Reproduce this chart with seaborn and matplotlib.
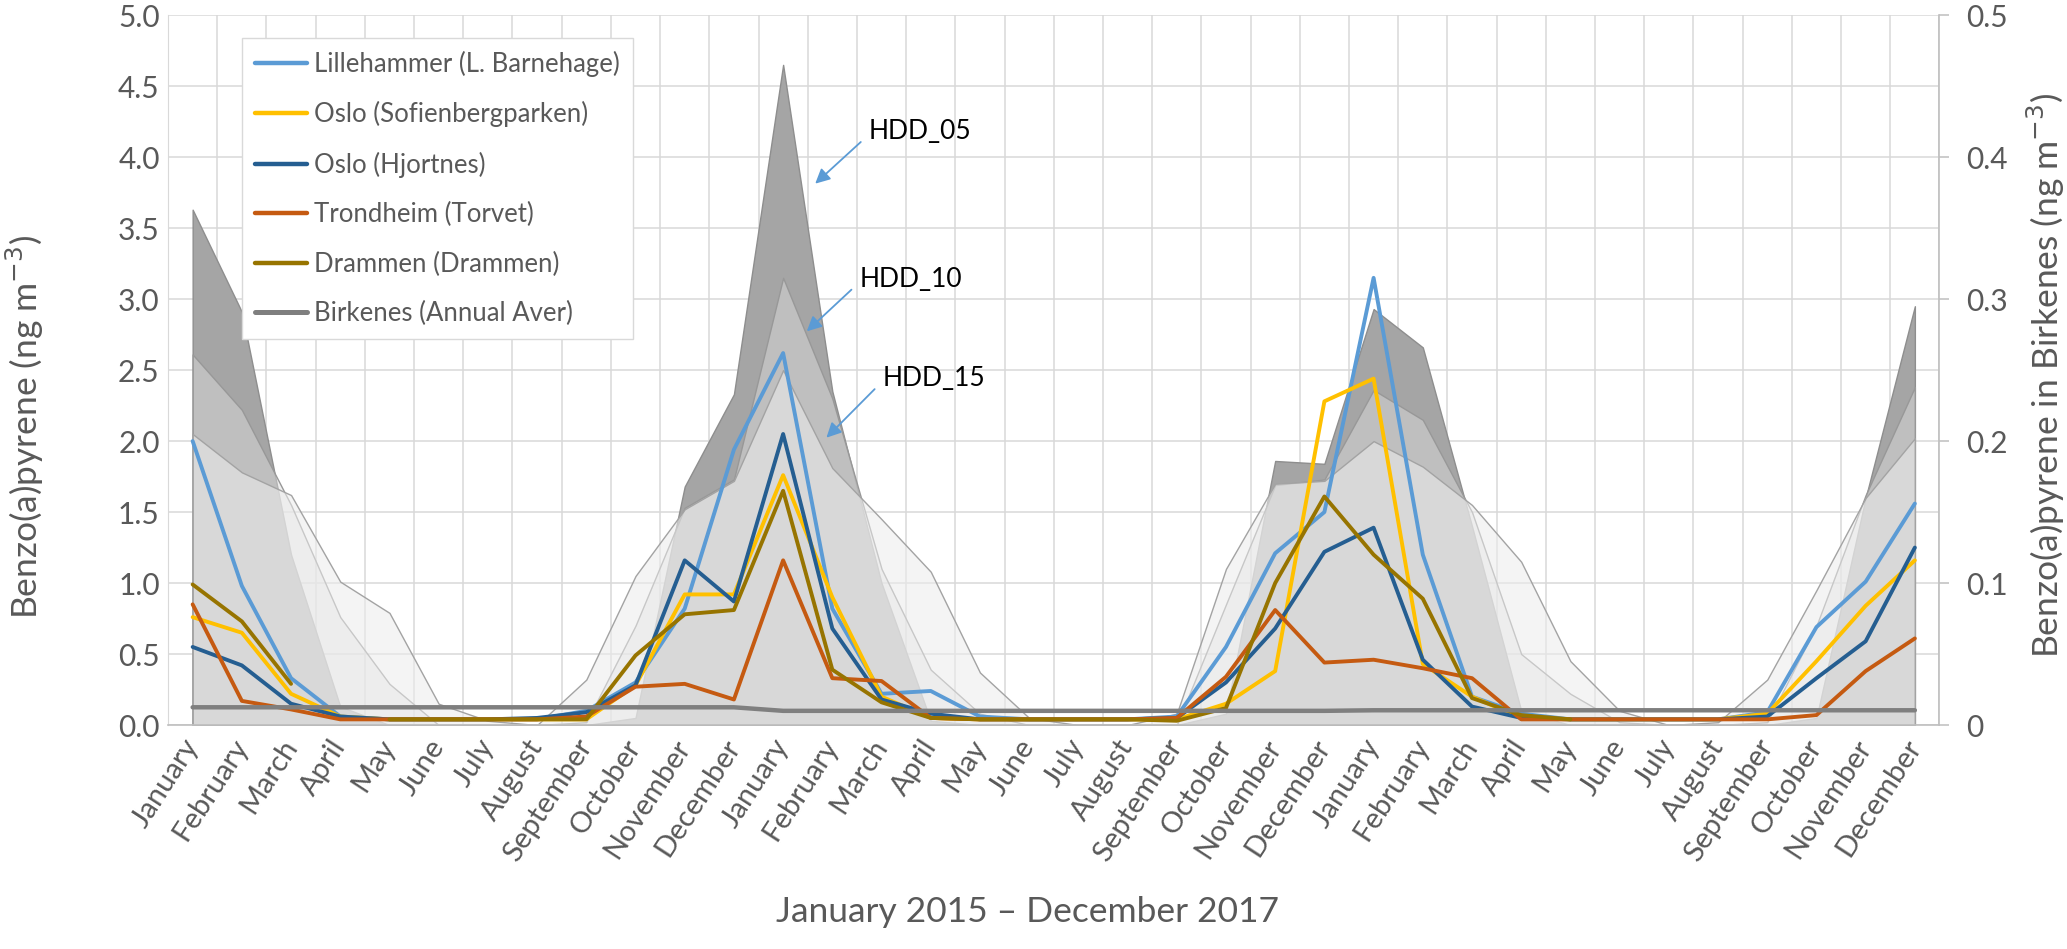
import numpy as np
import pandas as pd
import seaborn as sns
import matplotlib
matplotlib.use("Agg")
import matplotlib.pyplot as plt
from matplotlib.lines import Line2D

# ---- data ----
month_names = ["January", "February", "March", "April", "May", "June", "July",
               "August", "September", "October", "November", "December"]
months = month_names * 3   # Jan 2015 .. Dec 2017

lillehammer = [2.00, 0.98, 0.33, 0.06, 0.04, 0.04, 0.04, 0.04, 0.10, 0.30, 0.82, 1.94,
               2.62, 0.82, 0.22, 0.24, 0.06, 0.04, 0.04, 0.04, 0.06, 0.55, 1.21, 1.50,
               3.15, 1.20, 0.20, 0.08, 0.04, 0.04, 0.04, 0.04, 0.09, 0.69, 1.01, 1.56]
sofienberg = [0.76, 0.65, 0.22, 0.06, 0.04, 0.04, 0.04, 0.04, 0.04, 0.28, 0.92, 0.92,
              1.76, 0.90, 0.20, 0.05, 0.04, 0.04, 0.04, 0.04, 0.04, 0.15, 0.38, 2.28,
              2.44, 0.43, 0.20, 0.05, 0.04, 0.04, 0.04, 0.04, 0.08, 0.45, 0.84, 1.16]
hjortnes = [0.55, 0.42, 0.15, 0.06, 0.04, 0.04, 0.04, 0.05, 0.09, 0.28, 1.16, 0.87,
            2.05, 0.68, 0.18, 0.08, 0.04, 0.04, 0.04, 0.04, 0.05, 0.30, 0.68, 1.22,
            1.39, 0.46, 0.13, 0.05, 0.04, 0.04, 0.04, 0.04, 0.06, 0.33, 0.59, 1.25]
trondheim = [0.85, 0.17, 0.11, 0.04, 0.04, 0.04, 0.04, 0.04, 0.06, 0.27, 0.29, 0.18,
             1.16, 0.33, 0.31, 0.05, 0.04, 0.04, 0.04, 0.04, 0.05, 0.34, 0.81, 0.44,
             0.46, 0.40, 0.33, 0.04, 0.04, 0.04, 0.04, 0.04, 0.04, 0.07, 0.38, 0.61]
nan = np.nan
drammen = [0.99, 0.73, 0.29, nan, 0.04, 0.04, 0.04, 0.04, 0.04, 0.49, 0.78, 0.81,
           1.65, 0.39, 0.16, 0.05, 0.04, 0.04, 0.04, 0.04, 0.03, 0.12, 1.00, 1.61,
           1.20, 0.89, 0.19, 0.07, 0.04, nan, nan, nan, nan, nan, nan, nan]
birkenes = [0.0125] * 12 + [0.0100] * 12 + [0.0104] * 12   # right axis

hdd_05 = [3.63, 2.91, 1.20, 0.13, 0.00, 0.00, 0.00, 0.00, 0.00, 0.05, 1.68, 2.33,
          4.65, 2.35, 1.00, 0.03, 0.00, 0.00, 0.00, 0.00, 0.00, 0.08, 1.86, 1.84,
          2.93, 2.66, 1.40, 0.10, 0.00, 0.00, 0.00, 0.00, 0.00, 0.05, 1.60, 2.95]
hdd_10 = [2.61, 2.22, 1.55, 0.76, 0.29, 0.00, 0.00, 0.00, 0.02, 0.70, 1.53, 1.73,
          3.15, 2.30, 1.10, 0.39, 0.08, 0.00, 0.00, 0.00, 0.00, 0.85, 1.69, 1.73,
          2.36, 2.15, 1.50, 0.50, 0.22, 0.02, 0.00, 0.00, 0.02, 0.70, 1.62, 2.38]
hdd_15 = [2.05, 1.78, 1.62, 1.01, 0.79, 0.15, 0.03, 0.00, 0.32, 1.05, 1.52, 1.72,
          2.50, 1.81, 1.45, 1.08, 0.37, 0.05, 0.00, 0.00, 0.08, 1.10, 1.70, 1.72,
          2.00, 1.82, 1.55, 1.15, 0.45, 0.10, 0.00, 0.02, 0.32, 0.95, 1.60, 2.02]

station_names = ["Lillehammer (L. Barnehage)", "Oslo (Sofienbergparken)", "Oslo (Hjortnes)",
                 "Trondheim (Torvet)", "Drammen (Drammen)"]
station_vals = [lillehammer, sofienberg, hjortnes, trondheim, drammen]
colors = ["#5B9BD5", "#FFC000", "#255E91", "#C55A11", "#977400"]
birk_name = "Birkenes (Annual Aver)"
birk_color = "#7F7F7F"

# HDD labels: text position and arrow head (left-axis units)
hdd_labels = ["HDD_05", "HDD_10", "HDD_15"]
hdd_text_xy = [(13.74, 4.18), (13.55, 3.14), (14.02, 2.44)]
hdd_head_xy = [(12.61, 3.80), (12.44, 2.76), (12.84, 2.01)]

idx = np.arange(len(months))

# long table for seaborn, splitting at gaps so missing months stay missing
rows = []
for name, vals in zip(station_names, station_vals):
    seg = 0
    for i, v in enumerate(vals):
        if np.isnan(v):
            seg += 1
            continue
        rows.append((name, i, v, seg))
df = pd.DataFrame(rows, columns=["station", "idx", "value", "seg"])
df_birk = pd.DataFrame({"idx": idx, "value": birkenes})

# ---- plot ----
sns.set_style("white")
plt.rcParams["font.family"] = ["Lato", "DejaVu Sans"]
txt = "#595959"

fig = plt.figure(figsize=(20.67, 9.49), dpi=100)
ax = fig.add_axes([0.0813, 0.236, 0.857, 0.748])
ax.set_axisbelow(True)

# HDD areas
ax.fill_between(idx, hdd_05, 0, facecolor="#a5a5a5", edgecolor="#8e8e8e", lw=1.0, zorder=1)
ax.fill_between(idx, hdd_10, 0, facecolor=(221/255, 221/255, 221/255, 0.47),
                edgecolor="#989898", lw=1.0, zorder=1.1)
ax.fill_between(idx, hdd_15, 0, facecolor=(237/255, 237/255, 237/255, 0.56),
                edgecolor="#a3a3a3", lw=1.0, zorder=1.2)

sns.lineplot(data=df, x="idx", y="value", hue="station", hue_order=station_names,
             palette=dict(zip(station_names, colors)), units="seg", estimator=None,
             lw=2.8, legend=False, ax=ax, zorder=3)

ax2 = ax.twinx()
sns.lineplot(data=df_birk, x="idx", y="value", color=birk_color, lw=3.2, ax=ax2, legend=False)

ax.set_xlim(-0.5, 35.5)
ax2.set_xlim(-0.5, 35.5)
ax.set_ylim(0, 5)
ax2.set_ylim(0, 0.5)

ax.set_yticks(np.arange(0, 5.01, 0.5))
ax.set_yticklabels([f"{v:.1f}" for v in np.arange(0, 5.01, 0.5)])
ax2.set_yticks(np.arange(0, 0.51, 0.1))
ax2.set_yticklabels(["0", "0.1", "0.2", "0.3", "0.4", "0.5"])
ax.set_xticks(idx)
ax.set_xticklabels(months, rotation=57, ha="right", va="center", rotation_mode="anchor")
ax.set_xticks(np.arange(-0.5, 36, 1), minor=True)

ax.grid(False)
ax.grid(which="major", axis="y", color="#d9d9d9", lw=1.1)
ax.grid(which="minor", axis="x", color="#d9d9d9", lw=1.1)
ax2.grid(False)

ax.tick_params(axis="x", which="both", length=0, pad=12, labelsize=21, labelcolor=txt)
ax.tick_params(axis="y", length=0, pad=6, labelsize=21.5, labelcolor=txt)
ax2.tick_params(axis="y", length=7, width=1.1, color="#bfbfbf", pad=12, labelsize=21.5,
                labelcolor=txt)

for s in ["top", "right"]:
    ax.spines[s].set_visible(False)
ax.spines["left"].set_color("#d9d9d9")
ax.spines["bottom"].set_color("#bfbfbf")
ax.spines["bottom"].set_linewidth(1.2)
for s in ["top", "left", "bottom"]:
    ax2.spines[s].set_visible(False)
ax2.spines["right"].set_color("#bfbfbf")
ax2.spines["right"].set_linewidth(1.2)

ax.set_xlabel("")
ax.set_ylabel("")
ax2.set_xlabel("")
ax2.set_ylabel("")
fig.text(0.012, 0.55, "Benzo(a)pyrene (ng m$^{-3}$)", rotation=90, ha="center", va="center",
         fontsize=25.5, color=txt)
fig.text(0.990, 0.604, "Benzo(a)pyrene in Birkenes (ng m$^{-3}$)", rotation=90, ha="center",
         va="center", fontsize=25.5, color=txt)
fig.text(0.497, 0.039, "January 2015 \u2013 December 2017", ha="center", va="center",
         fontsize=25.5, color=txt)

# HDD labels with arrows
arrow_kw = dict(arrowstyle="-|>", color="#5B9BD5", lw=1.3, mutation_scale=22)
for label, (tx, ty), (hx, hy) in zip(hdd_labels, hdd_text_xy, hdd_head_xy):
    ax2.annotate("", xy=(hx, hy / 10), xytext=(tx - 0.12, ty / 10 - 0.006), arrowprops=arrow_kw)
    ax2.text(tx, ty / 10, label, ha="left", va="center", fontsize=19, color="black")

handles = [Line2D([0], [0], color=c, lw=3.2) for c in colors] + \
          [Line2D([0], [0], color=birk_color, lw=3.6)]
leg = ax2.legend(handles, station_names + [birk_name], loc="upper left",
                 bbox_to_anchor=(0.042, 0.968), borderaxespad=0, fontsize=18.5,
                 labelcolor=txt, frameon=True, fancybox=False, edgecolor="#d9d9d9",
                 framealpha=1, handlelength=2.0, handletextpad=0.3, labelspacing=0.95,
                 borderpad=0.5)
leg.get_frame().set_linewidth(1.0)

fig.savefig("out.png", dpi=100)
